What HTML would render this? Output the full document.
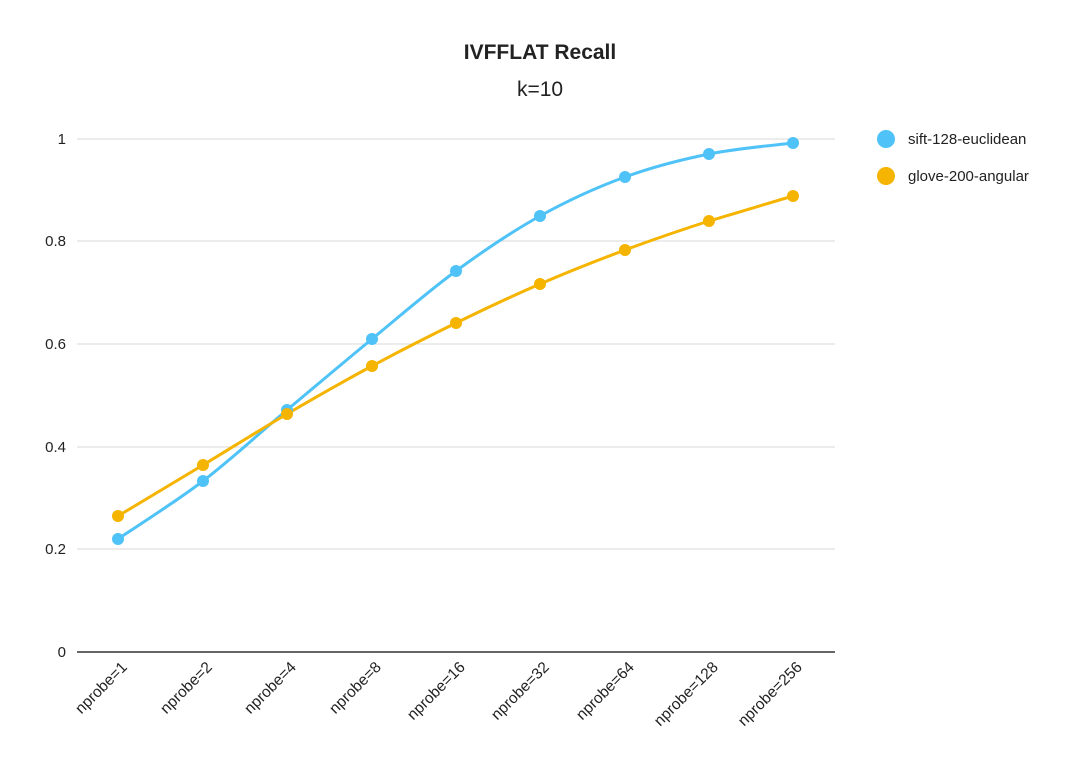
<!DOCTYPE html>
<html><head><meta charset="utf-8"><style>html,body{margin:0;padding:0;background:#fff}</style></head>
<body>
<svg width="1080" height="770" xmlns="http://www.w3.org/2000/svg" font-family="Liberation Sans, sans-serif">
<rect width="1080" height="770" fill="#fff"/>
<text x="540" y="59" text-anchor="middle" font-size="21" font-weight="bold" fill="#222">IVFFLAT Recall</text>
<text x="540" y="96" text-anchor="middle" font-size="21" fill="#222">k=10</text>
<g stroke="#d9d9d9" stroke-width="1">
<line x1="77" x2="835" y1="139" y2="139"/>
<line x1="77" x2="835" y1="241" y2="241"/>
<line x1="77" x2="835" y1="344" y2="344"/>
<line x1="77" x2="835" y1="447" y2="447"/>
<line x1="77" x2="835" y1="549" y2="549"/>
</g>
<line x1="77" x2="835" y1="652" y2="652" stroke="#333" stroke-width="1.5"/>
<g font-size="15" fill="#222" text-anchor="end">
<text x="66" y="144">1</text><text x="66" y="246">0.8</text><text x="66" y="349">0.6</text>
<text x="66" y="452">0.4</text><text x="66" y="554">0.2</text><text x="66" y="657">0</text>
</g>
<g font-size="15.5" fill="#222" text-anchor="end">
<text transform="translate(128,668) rotate(-45)">nprobe=1</text>
<text transform="translate(213,668) rotate(-45)">nprobe=2</text>
<text transform="translate(297,668) rotate(-45)">nprobe=4</text>
<text transform="translate(382,668) rotate(-45)">nprobe=8</text>
<text transform="translate(466,668) rotate(-45)">nprobe=16</text>
<text transform="translate(550,668) rotate(-45)">nprobe=32</text>
<text transform="translate(635,668) rotate(-45)">nprobe=64</text>
<text transform="translate(719,668) rotate(-45)">nprobe=128</text>
<text transform="translate(803,668) rotate(-45)">nprobe=256</text>
</g>
<path fill="none" stroke="#4fc3f7" stroke-width="3" d="M118,539 C132,529.3 174.8,502.5 203,481 C231.2,459.5 258.8,433.7 287,410 C315.2,386.3 343.8,362.2 372,339 C400.2,315.8 428,291.5 456,271 C484,250.5 511.8,231.7 540,216 C568.2,200.3 596.8,187.3 625,177 C653.2,166.7 681,159.7 709,154 C737,148.3 779,144.8 793,143"/>
<path fill="none" stroke="#f5b400" stroke-width="3" d="M118,516 C132.2,507.5 174.8,482 203,465 C231.2,448 258.8,430.5 287,414 C315.2,397.5 343.8,381.2 372,366 C400.2,350.8 428,336.7 456,323 C484,309.3 511.8,296.2 540,284 C568.2,271.8 596.8,260.5 625,250 C653.2,239.5 681,230 709,221 C737,212.7 779,200.2 793,196"/>
<g fill="#4fc3f7">
<circle cx="118" cy="539" r="6"/><circle cx="203" cy="481" r="6"/><circle cx="287" cy="410" r="6"/><circle cx="372" cy="339" r="6"/><circle cx="456" cy="271" r="6"/><circle cx="540" cy="216" r="6"/><circle cx="625" cy="177" r="6"/><circle cx="709" cy="154" r="6"/><circle cx="793" cy="143" r="6"/>
</g>
<g fill="#f5b400">
<circle cx="118" cy="516" r="6"/><circle cx="203" cy="465" r="6"/><circle cx="287" cy="414" r="6"/><circle cx="372" cy="366" r="6"/><circle cx="456" cy="323" r="6"/><circle cx="540" cy="284" r="6"/><circle cx="625" cy="250" r="6"/><circle cx="709" cy="221" r="6"/><circle cx="793" cy="196" r="6"/>
</g>
<circle cx="886" cy="139" r="9" fill="#4fc3f7"/>
<circle cx="886" cy="176" r="9" fill="#f5b400"/>
<text x="908" y="144" font-size="15" fill="#222">sift-128-euclidean</text>
<text x="908" y="181" font-size="15" fill="#222">glove-200-angular</text>
</svg>
</body></html>
